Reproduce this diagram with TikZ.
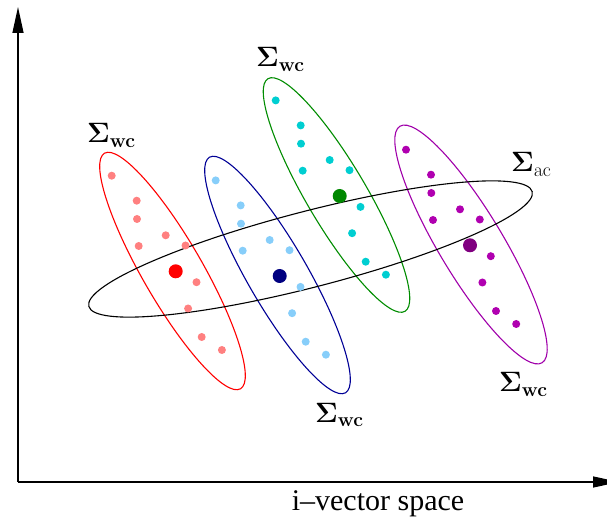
\RequirePackage{fix-cm}
\documentclass[tikz,border=0pt]{standalone}
\usepackage{amsmath}
\usepackage[no-math]{fontspec}
\setmainfont{Liberation Serif}
\usepackage{tikz}
\usetikzlibrary{arrows.meta}
\definecolor{redsmall}{RGB}{255,128,128}
\definecolor{redring}{RGB}{255,0,0}
\definecolor{redbig}{RGB}{255,0,0}
\definecolor{bluesmall}{RGB}{135,206,250}
\definecolor{bluering}{RGB}{0,0,150}
\definecolor{bluebig}{RGB}{0,0,128}
\definecolor{greensmall}{RGB}{0,206,209}
\definecolor{greenring}{RGB}{0,140,0}
\definecolor{greenbig}{RGB}{0,136,0}
\definecolor{purplesmall}{RGB}{176,0,176}
\definecolor{purplering}{RGB}{160,0,170}
\definecolor{purplebig}{RGB}{128,0,128}

\begin{document}
\begin{tikzpicture}[x=1pt,y=1pt,
  axis/.style={line width=1.3pt, -{Triangle[length=26pt,width=11pt]}},
  ring/.style={line width=1.1pt},
  lab/.style={font=\fontsize{28}{31}\selectfont, anchor=base west, inner sep=0pt},
  axislab/.style={font=\fontsize{30}{34}\selectfont, anchor=base, inner sep=0pt}
]
\useasboundingbox (0,0) rectangle (607,530);

% axes
\coordinate (origin) at (18,48);
\coordinate (ytip) at (18,523);
\coordinate (xtip) at (619,48);
\draw[axis] (origin) -- (ytip);
\draw[axis] (origin) -- (xtip);
\node[axislab] (xlab) at (378,20) {i--vector space};

% within-class ellipses
\draw[ring,redring] (172.5,259) ellipse[x radius=136, y radius=30, rotate=-60];
\draw[ring,bluering] (277.5,255) ellipse[x radius=136, y radius=30, rotate=-60];
\draw[ring,greenring] (336.5,335) ellipse[x radius=135, y radius=30, rotate=-59.5];
\draw[ring,purplering] (471,285.5) ellipse[x radius=138, y radius=32, rotate=-59];

% across-class ellipse
\draw[ring,black] (310.5,281) ellipse[x radius=229, y radius=38, rotate=14.5];

% samples and class means
\foreach \c/\bx/\by in {red/175.7/258.7, blue/279.7/254, green/339.7/334, purple/470/284.7} {
  \begin{scope}[shift={(\bx,\by)}]
    \foreach \dx/\dy in {-64/95.6, -39/70.6, -38.7/52.3, -10/36, -37/25.3,
                         9.8/25.8, 20.8/-10.9, 12.4/-37.2, 26/-65.7, 46.2/-78.7}
      \fill[\c small] (\dx,\dy) circle (4);
    \fill[\c big] (0,0) circle (7);
  \end{scope}
}

% labels
\node[lab] (wcred) at (87,387) {$\boldsymbol{\Sigma}_{\mathbf{wc}}$};
\node[lab] (wcgreen) at (256,463) {$\boldsymbol{\Sigma}_{\mathbf{wc}}$};
\node[lab] (acblack) at (511,358) {$\boldsymbol{\Sigma}_{\mathrm{ac}}$};
\node[lab] (wcblue) at (315,108) {$\boldsymbol{\Sigma}_{\mathbf{wc}}$};
\node[lab] (wcpurple) at (499,138) {$\boldsymbol{\Sigma}_{\mathbf{wc}}$};
\end{tikzpicture}
\end{document}
